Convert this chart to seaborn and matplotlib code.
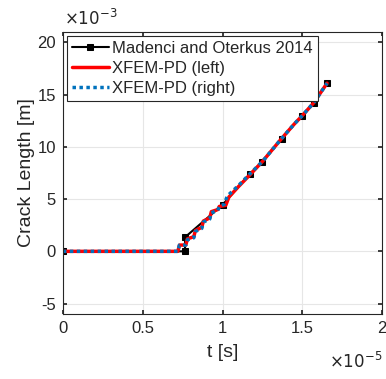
import matplotlib
matplotlib.use("Agg")
import matplotlib.pyplot as plt
import seaborn as sns
import pandas as pd
import numpy as np

# data in units: t [1e-5 s], crack length [1e-3 m]
mad_t = [0, 0.765, 0.765, 1.0, 1.17, 1.25, 1.37, 1.50, 1.57, 1.655]
mad_y = [0, 0, 1.35, 4.45, 7.4, 8.6, 10.8, 13.0, 14.2, 16.1]

left_t = [0, 0.72, 0.73, 0.77, 0.78, 0.82, 0.83, 0.87, 0.88, 0.92, 0.93, 0.97, 0.98, 1.02,
          1.04, 1.10, 1.17, 1.25, 1.37, 1.45, 1.50, 1.57, 1.655]
left_y = [0, 0, 0.6, 0.6, 1.2, 1.4, 2.0, 2.3, 2.9, 3.2, 3.8, 4.0, 4.3, 4.4,
          5.2, 6.2, 7.3, 8.6, 10.8, 12.2, 13.0, 14.2, 16.1]

right_t = [0, 0.72, 0.73, 0.77, 0.78, 0.82, 0.83, 0.87, 0.88, 0.92, 0.93, 0.97, 0.98, 1.01,
           1.03, 1.10, 1.17, 1.25, 1.37, 1.45, 1.50, 1.57, 1.655]
right_y = [0, 0, 0.6, 0.6, 1.1, 1.3, 1.9, 2.2, 2.8, 3.1, 3.7, 3.9, 4.3, 4.5,
           5.3, 6.3, 7.4, 8.6, 10.8, 12.2, 13.0, 14.2, 16.1]

labels = ["Madenci and Oterkus 2014", "XFEM-PD (left)", "XFEM-PD (right)"]

sns.set_theme(style="whitegrid")
plt.rcParams['font.family'] = ['Liberation Sans', 'DejaVu Sans']

fig = plt.figure(figsize=(3.86, 3.79), dpi=100)
ax = fig.add_axes([0.163, 0.1715, 0.827, 0.744])

df_m = pd.DataFrame({"t": np.array(mad_t) * 1e-5, "y": np.array(mad_y) * 1e-3})
df_l = pd.DataFrame({"t": np.array(left_t) * 1e-5, "y": np.array(left_y) * 1e-3})
df_r = pd.DataFrame({"t": np.array(right_t) * 1e-5, "y": np.array(right_y) * 1e-3})

sns.lineplot(data=df_m, x="t", y="y", sort=False, estimator=None, ax=ax, color="black",
             lw=1.5, marker="s", markersize=5, markeredgecolor="black", label=labels[0])
sns.lineplot(data=df_l, x="t", y="y", sort=False, estimator=None, ax=ax, color="#FF0000",
             lw=2.5, label=labels[1])
sns.lineplot(data=df_r, x="t", y="y", sort=False, estimator=None, ax=ax, color="#0072BD",
             lw=2.5, linestyle=(0, (1, 1)), label=labels[2])

ax.set_xlim(0, 2e-5)
ax.set_ylim(-6e-3, 21e-3)
ax.set_xticks(np.array([0, 0.5, 1, 1.5, 2]) * 1e-5)
ax.set_xticklabels(["0", "0.5", "1", "1.5", "2"])
ax.set_yticks(np.array([-5, 0, 5, 10, 15, 20]) * 1e-3)
ax.set_yticklabels(["-5", "0", "5", "10", "15", "20"])
ax.tick_params(labelsize=12, colors="#262626", length=3, direction="in",
               left=True, bottom=True, top=True, right=True, pad=5)
ax.grid(True, color="#E6E6E6", lw=0.8)
for s in ax.spines.values():
    s.set_color("#262626")
    s.set_linewidth(0.8)
ax.set_facecolor("white")
ax.set_xlabel("t [s]", fontsize=14, color="#262626", labelpad=6)
ax.set_ylabel("Crack Length [m]", fontsize=14, color="#262626", labelpad=2)

fig.text(0.165, 0.935, r"$\times10^{-3}$", fontsize=12, color="#262626")
fig.text(0.99, 0.03, r"$\times10^{-5}$", fontsize=12, color="#262626", ha="right")

leg = ax.legend(loc="upper left", fontsize=12, frameon=True, fancybox=False,
                borderaxespad=0.25, handlelength=2.2, handletextpad=0.2,
                labelspacing=0.3, borderpad=0.3)
leg.get_frame().set_edgecolor("#262626")
leg.get_frame().set_linewidth(0.8)
leg.get_frame().set_alpha(1)

fig.savefig("out.png", dpi=100)
